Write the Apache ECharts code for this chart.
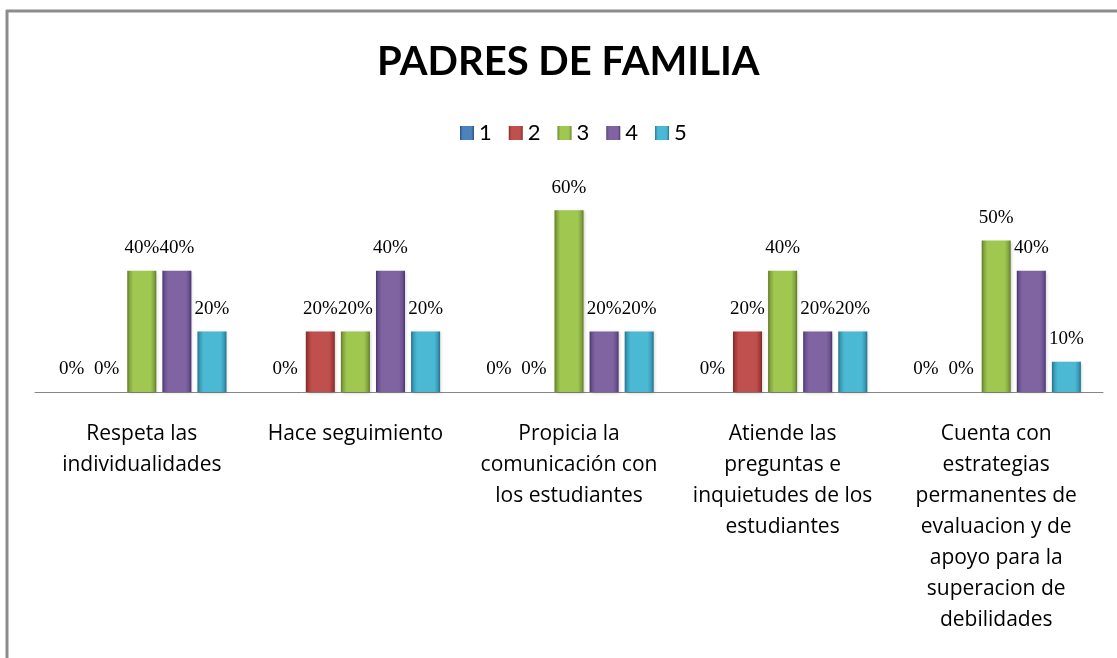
<!DOCTYPE html>
<html>
<head>
<meta charset="utf-8">
<title>PADRES DE FAMILIA</title>
<script src="https://cdn.jsdelivr.net/npm/echarts@6/dist/echarts.min.js"></script>
<style>
html,body{margin:0;padding:0;background:#fff;}
#main{width:1117px;height:658px;}
</style>
</head>
<body>
<div id="main"></div>
<script>
// categorias (eje x)
var categorias = [
	'Respeta las\nindividualidades',
	'Hace seguimiento',
	'Propicia la\ncomunicación con\nlos estudiantes',
	'Atiende las\npreguntas e\ninquietudes de los\nestudiantes',
	'Cuenta con\nestrategias\npermanentes de\nevaluacion y de\napoyo para la\nsuperacion de\ndebilidades'
];
// valores por serie (porcentaje)
var serie1 = [0, 0, 0, 0, 0];
var serie2 = [0, 20, 0, 20, 0];
var serie3 = [40, 20, 60, 40, 50];
var serie4 = [40, 40, 20, 20, 40];
var serie5 = [20, 20, 20, 20, 10];
var nombres = ['1', '2', '3', '4', '5'];

// borde oscuro, centro, tono medio
var colores = [
	['#284f80', '#4f81bd', '#3a6aa3'],
	['#7e2826', '#c0504d', '#a33c39'],
	['#5f7a24', '#a0c750', '#84a53f'],
	['#47336a', '#8064a2', '#6a5190'],
	['#21708a', '#4bb8d4', '#3a9ab5']
];

function bisel(c){
	return {
		type:'linear', x:0, y:0, x2:1, y2:0,
		colorStops:[
			{offset:0, color:c[0]},
			{offset:0.08, color:c[2]},
			{offset:0.2, color:c[1]},
			{offset:0.8, color:c[1]},
			{offset:0.92, color:c[2]},
			{offset:1, color:c[0]}
		]
	};
}

var datos = [serie1, serie2, serie3, serie4, serie5];
var series = [];
for(var i=0;i<datos.length;i++){
	series.push({
		name:nombres[i],
		type:'bar',
		data:datos[i],
		barWidth:29,
		barGap:'21%',
		itemStyle:{
			color:bisel(colores[i]),
			shadowColor:'rgba(0,0,0,0.2)',
			shadowBlur:3,
			shadowOffsetX:1,
			shadowOffsetY:1
		},
		label:{
			show:true,
			position:'top',
			distance:13,
			formatter:'{c}%',
			color:'#000',
			fontFamily:'Liberation Serif',
			fontSize:19
		}
	});
}

var myChart = echarts.init(document.getElementById('main'));
var options = {
	backgroundColor:'#fff',
	animation:false,
	title:{
		text:'PADRES DE FAMILIA',
		left:372,
		top:37,
		textStyle:{
			fontFamily:'Lato',
			fontWeight:'bold',
			fontSize:40,
			color:'#000'
		}
	},
	legend:{
		data:nombres,
		top:117,
		left:455,
		itemWidth:14,
		itemHeight:14,
		itemGap:17,
		icon:'rect',
		textStyle:{
			fontFamily:'Lato',
			fontSize:22,
			color:'#000'
		}
	},
	grid:{
		left:35,
		right:14,
		top:180,
		bottom:266,
		outerBoundsMode:'none'
	},
	xAxis:{
		type:'category',
		data:categorias,
		axisLine:{lineStyle:{color:'#868686', width:1}},
		axisTick:{show:false},
		axisLabel:{
			interval:0,
			margin:27,
			lineHeight:31,
			fontFamily:'Open Sans',
			fontSize:21,
			color:'#000'
		}
	},
	yAxis:{
		type:'value',
		min:0,
		max:70,
		show:false
	},
	graphic:[
		{type:'line', shape:{x1:6, y1:11, x2:1117, y2:11}, style:{stroke:'#8c8c8c', lineWidth:3}},
		{type:'line', shape:{x1:7, y1:10, x2:7, y2:658}, style:{stroke:'#8c8c8c', lineWidth:3}}
	],
	series:series
};
myChart.setOption(options);
</script>
</body>
</html>
